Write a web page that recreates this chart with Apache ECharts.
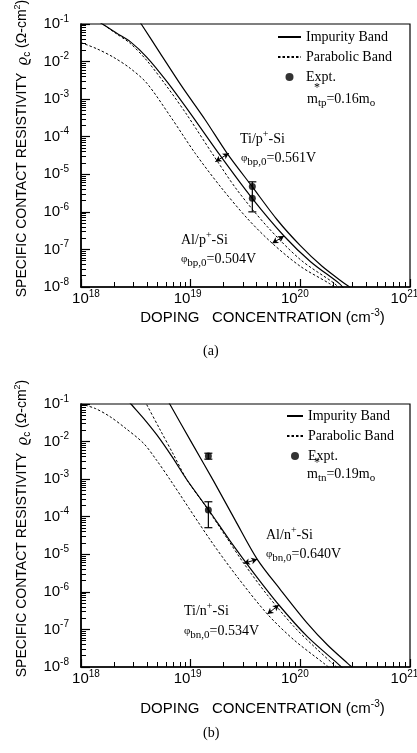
<!DOCTYPE html>
<html>
<head>
<meta charset="utf-8">
<title>Specific contact resistivity vs doping concentration</title>
<script src="https://cdn.jsdelivr.net/npm/echarts@6/dist/echarts.min.js"></script>
<style>
  html, body { margin: 0; padding: 0; background: #fff; }
  #chart { width: 417px; height: 753px; }
</style>
</head>
<body>
<div id="chart"></div>
<script>
// ---- Axis decades (powers of ten) ----
const dopingExponents = [18, 19, 20, 21];
const resistivityExponents = [-1, -2, -3, -4, -5, -6, -7, -8];

// ---- (a) p+-Si contacts: doping N (cm^-3) and specific contact resistivity (ohm-cm^2) ----
const pTiImpurityN    = [3.39e18, 3.59e18, 5.28e18, 8.34e18, 1.36e19, 2.15e19, 3.64e19, 6.17e19, 1.00e20, 1.58e20, 2.51e20, 2.82e20];
const pTiImpurityRho  = [1.2e-1, 9.4e-2, 1.66e-2, 2.15e-3, 2.79e-4, 3.61e-5, 4.68e-6, 6.07e-7, 1.26e-7, 3.55e-8, 1.26e-8, 1.0e-8];
const pAlImpurityN    = [1.48e18, 1.62e18, 2.12e18, 2.81e18, 3.99e18, 6.08e18, 9.93e18, 1.80e19, 3.64e19, 7.10e19, 1.24e20, 2.26e20, 2.51e20];
const pAlImpurityRho  = [1.12e-1, 9.4e-2, 5.65e-2, 3.39e-2, 1.30e-2, 2.92e-3, 4.19e-4, 3.61e-5, 2.29e-6, 2.28e-7, 4.72e-8, 1.25e-8, 8.9e-9];
const pTiParabolicN   = [1.48e18, 1.62e18, 2.12e18, 2.81e18, 3.99e18, 6.08e18, 9.27e18, 1.57e19, 2.65e19, 5.00e19, 1.01e20, 2.04e20, 2.29e20];
const pTiParabolicRho = [1.12e-1, 9.4e-2, 5.42e-2, 3.05e-2, 1.06e-2, 2.15e-3, 3.78e-4, 3.61e-5, 3.82e-6, 4.04e-7, 5.24e-8, 1.25e-8, 8.9e-9];
const pAlParabolicN   = [1.00e18, 1.39e18, 1.98e18, 2.81e18, 3.99e18, 6.56e18, 1.10e19, 1.87e19, 3.28e19, 5.55e19, 1.01e20, 1.83e20, 2.09e20];
const pAlParabolicRho = [3.18e-2, 2.20e-2, 1.30e-2, 6.61e-3, 2.64e-3, 3.41e-4, 3.61e-5, 4.68e-6, 6.71e-7, 1.45e-7, 3.48e-8, 1.25e-8, 9.3e-9];
const pExptN    = [3.65e19, 3.65e19];
const pExptRho  = [4.7e-6, 2.3e-6];
const pErrN     = [3.65e19];
const pErrLow   = [1.0e-6];
const pErrHigh  = [6.3e-6];
// double-headed arrows pairing the two models for each metal
const pTiArrow = [[1.68e19, 2.17e-5], [2.23e19, 3.61e-5]];
const pAlArrow = [[5.55e19, 1.45e-7], [7.10e19, 2.28e-7]];

// ---- (b) n+-Si contacts ----
const nAlImpurityN    = [6.17e18, 6.52e18, 1.03e19, 1.63e19, 2.56e19, 4.05e19, 6.62e19, 1.16e20, 1.77e20, 2.70e20, 2.95e20];
const nAlImpurityRho  = [1.26e-1, 9.4e-2, 8.97e-3, 8.57e-4, 7.85e-5, 7.35e-6, 1.12e-6, 1.45e-7, 3.85e-8, 1.25e-8, 1.0e-8];
const nTiImpurityN    = [2.69e18, 2.91e18, 3.72e18, 4.92e18, 6.76e18, 9.27e18, 1.46e19, 2.31e19, 3.78e19, 6.38e19, 1.16e20, 2.18e20, 2.45e20];
const nTiImpurityRho  = [1.23e-1, 9.4e-2, 4.15e-2, 1.50e-2, 3.96e-3, 9.48e-4, 1.51e-4, 2.17e-5, 3.11e-6, 4.47e-7, 6.41e-8, 1.25e-8, 9.3e-9];
const nAlParabolicN   = [3.80e18, 3.99e18, 5.28e18, 7.00e18, 9.27e18, 1.41e19, 2.15e19, 3.05e19, 5.00e19, 8.77e19, 1.34e20, 1.96e20, 2.19e20];
const nAlParabolicRho = [1.23e-1, 9.4e-2, 2.03e-2, 4.40e-3, 9.48e-4, 1.67e-4, 2.65e-5, 5.74e-6, 8.24e-7, 1.18e-7, 3.48e-8, 1.25e-8, 9.3e-9];
const nTiParabolicN   = [1.00e18, 1.35e18, 1.84e18, 2.51e18, 3.72e18, 4.90e18, 6.52e18, 1.51e19, 2.65e19, 5.00e19, 8.77e19, 1.64e20, 1.86e20];
const nTiParabolicRho = [1.0e-1, 7.59e-2, 4.60e-2, 2.34e-2, 8.97e-3, 3.16e-3, 9.48e-4, 2.40e-5, 2.54e-6, 2.57e-7, 5.22e-8, 1.25e-8, 9.3e-9];
const nExptN    = [1.45e19, 1.45e19];
const nExptRho  = [4.1e-3, 1.5e-4];
const nErrN     = [1.45e19, 1.45e19];
const nErrLow   = [3.4e-3, 5.1e-5];
const nErrHigh  = [4.9e-3, 2.5e-4];
const nAlArrow = [[3.05e19, 5.74e-6], [4.05e19, 7.35e-6]];
const nTiArrow = [[5.00e19, 2.57e-7], [6.38e19, 4.47e-7]];

// ---- helpers ----
const sans = "'Liberation Sans', Arial, sans-serif";
const serif = "'Liberation Serif', 'Times New Roman', serif";
const zip = (xs, ys) => xs.map((x, i) => [x, ys[i]]);
const zip3 = (xs, a, b) => xs.map((x, i) => [x, a[i], b[i]]);

// log-spaced minor tick positions (2..9 in each decade)
const dopingMinor = [];
for (let k = 18; k < 21; k++) for (let m = 2; m <= 9; m++) dopingMinor.push(m * Math.pow(10, k));
const resistivityMinor = [];
for (let k = -8; k < -1; k++) for (let m = 2; m <= 9; m++) resistivityMinor.push(m * Math.pow(10, k));

const supRich = {
  b: { fontFamily: sans, fontSize: 15, lineHeight: 20, color: '#000' },
  s: { fontFamily: sans, fontSize: 10, lineHeight: 11, verticalAlign: 'top', color: '#000' },
  lead: { width: 10, fontSize: 10, lineHeight: 20 },
  trail6: { width: 6, fontSize: 10, lineHeight: 20 },
  trail11: { width: 11, fontSize: 10, lineHeight: 20 }
};

// hand-set nudges of the decade labels along the doping axis
const xLabelPad = { 18: ['lead', ''], 19: ['', 'trail6'], 20: ['', 'trail11'], 21: ['', 'trail11'] };

function xLabel(v) {
  const e = Math.round(Math.log10(v));
  if (!dopingExponents.includes(e)) return '';
  const pad = xLabelPad[e] || ['', ''];
  return (pad[0] ? `{${pad[0]}| }` : '') + `{b|10}{s|${e}}` + (pad[1] ? `{${pad[1]}| }` : '');
}
function yLabel(v) {
  const e = Math.round(Math.log10(v));
  return resistivityExponents.includes(e) ? `{b|10}{s|${e}}` : '';
}

function xAxisFor(gridIndex, nameGap) {
  return {
    type: 'log', logBase: 10, gridIndex, min: 1e18, max: 1e21, splitNumber: 3, position: 'bottom',
    axisLine: { show: true, lineStyle: { color: '#000', width: 1.6 } },
    axisTick: { show: true, inside: true, length: 8, lineStyle: { color: '#000', width: 1.2 } },
    splitLine: { show: false },
    minorTick: { show: false },
    axisLabel: { margin: 2, formatter: xLabel, rich: supRich },
    name: '{t|DOPING   CONCENTRATION (cm}{s|-3}{t|)}',
    nameLocation: 'middle', nameGap,
    nameTextStyle: {
      padding: [0, 0, 0, 34],
      rich: {
        t: { fontFamily: sans, fontSize: 15, lineHeight: 20, color: '#000' },
        s: { fontFamily: sans, fontSize: 10, lineHeight: 11, verticalAlign: 'top', color: '#000' }
      }
    }
  };
}
// companion axis carrying only the short minor ticks
function xMinorAxisFor(gridIndex) {
  return {
    type: 'log', logBase: 10, gridIndex, min: 1e18, max: 1e21, position: 'bottom',
    axisLine: { show: false },
    axisTick: { show: true, inside: true, length: 5, customValues: dopingMinor, lineStyle: { color: '#000', width: 1 } },
    axisLabel: { show: false }, splitLine: { show: false }
  };
}

function yAxisFor(gridIndex) {
  return {
    type: 'log', logBase: 10, gridIndex, min: 1e-8, max: 1e-1, splitNumber: 7, position: 'left',
    axisLine: { show: true, lineStyle: { color: '#000', width: 1.6 } },
    axisTick: { show: true, inside: true, length: 9, lineStyle: { color: '#000', width: 1.2 } },
    splitLine: { show: false },
    minorTick: { show: false },
    axisLabel: { margin: 12, formatter: yLabel, rich: supRich },
    name: '{t|SPECIFIC CONTACT RESISTIVITY  }{r|ϱ}{c|c}{t| (Ω-cm}{s|2}{t|)}',
    nameLocation: 'middle', nameGap: 46,
    nameTextStyle: {
      padding: [0, 0, 0, 14],
      rich: {
        t: { fontFamily: sans, fontSize: 14, lineHeight: 20, color: '#000' },
        r: { fontFamily: serif, fontSize: 16, fontStyle: 'italic', lineHeight: 20, color: '#000' },
        c: { fontFamily: sans, fontSize: 10, lineHeight: 10, verticalAlign: 'bottom', color: '#000' },
        s: { fontFamily: sans, fontSize: 9, lineHeight: 10, verticalAlign: 'top', color: '#000' }
      }
    }
  };
}
function yMinorAxisFor(gridIndex) {
  return {
    type: 'log', logBase: 10, gridIndex, min: 1e-8, max: 1e-1, position: 'left',
    axisLine: { show: false },
    axisTick: { show: true, inside: true, length: 5, customValues: resistivityMinor, lineStyle: { color: '#000', width: 1 } },
    axisLabel: { show: false }, splitLine: { show: false }
  };
}

function renderErrorBar(params, api) {
  const x = api.value(0);
  const lo = api.coord([x, api.value(1)]);
  const hi = api.coord([x, api.value(2)]);
  const w = 4;
  const st = { stroke: '#000', lineWidth: 1.2 };
  return {
    type: 'group',
    children: [
      { type: 'line', shape: { x1: lo[0], y1: lo[1], x2: hi[0], y2: hi[1] }, style: st },
      { type: 'line', shape: { x1: lo[0] - w, y1: lo[1], x2: lo[0] + w, y2: lo[1] }, style: st },
      { type: 'line', shape: { x1: hi[0] - w, y1: hi[1], x2: hi[0] + w, y2: hi[1] }, style: st }
    ]
  };
}

const solid = { color: '#000', width: 1.2, type: 'solid' };
const dotted = { color: '#000', width: 1, type: [2.5, 2] };
const arrowLine = arrows => ({
  silent: true, symbol: ['arrow', 'arrow'], symbolSize: [5, 6],
  label: { show: false }, lineStyle: { color: '#000', width: 1, type: 'solid' },
  emphasis: { disabled: true },
  data: arrows.map(a => [{ coord: a[0] }, { coord: a[1] }])
});

function curve(name, idx, xs, ys, style, arrows) {
  const s = {
    name, type: 'line', xAxisIndex: 2 * idx, yAxisIndex: 2 * idx, data: zip(xs, ys),
    symbol: 'none', showSymbol: false, smooth: 0.3, clip: true,
    lineStyle: style, itemStyle: { color: '#000' }, z: 3
  };
  if (arrows) s.markLine = arrowLine(arrows);
  return s;
}

function panelSeries(idx, c, exptN, exptRho, errN, errLo, errHi) {
  return [
    curve('Impurity Band', idx, c[0][0], c[0][1], solid, c[0][2]),
    curve('Impurity Band', idx, c[1][0], c[1][1], solid, c[1][2]),
    curve('Parabolic Band', idx, c[2][0], c[2][1], dotted),
    curve('Parabolic Band', idx, c[3][0], c[3][1], dotted),
    {
      name: 'Expt.', type: 'scatter', xAxisIndex: 2 * idx, yAxisIndex: 2 * idx,
      data: zip(exptN, exptRho), symbol: 'circle', symbolSize: 7,
      itemStyle: { color: '#000' }, z: 5
    },
    {
      type: 'custom', xAxisIndex: 2 * idx, yAxisIndex: 2 * idx, renderItem: renderErrorBar,
      data: zip3(errN, errLo, errHi), encode: { x: 0, y: [1, 2] }, silent: true, z: 4
    }
  ];
}

const legendBase = {
  orient: 'vertical', selectedMode: false, itemHeight: 8, itemGap: 6, padding: 0,
  textStyle: { fontFamily: serif, fontSize: 14, color: '#000', lineHeight: 14 },
  data: [
    { name: 'Impurity Band', itemStyle: { opacity: 0 } },
    { name: 'Parabolic Band', itemStyle: { opacity: 0 } },
    'Expt.'
  ]
};

const serifRich = {
  s: { fontFamily: serif, fontSize: 10, lineHeight: 10, verticalAlign: 'top', fill: '#000' },
  b: { fontFamily: serif, fontSize: 11, lineHeight: 10, verticalAlign: 'bottom', fill: '#000' },
  p: { fontFamily: serif, fontSize: 11, lineHeight: 20, fill: '#000' }
};
function note(x, yCenter, text) {
  return {
    type: 'text', left: x, top: yCenter - 10, silent: true,
    style: { text, fontFamily: serif, fontSize: 14, lineHeight: 20, fill: '#000', rich: serifRich }
  };
}
function star(x, yCenter) {
  return {
    type: 'text', left: x, top: yCenter - 6, silent: true,
    style: { text: '*', fontFamily: serif, fontSize: 12, fill: '#000' }
  };
}

const option = {
  animation: false,
  backgroundColor: '#fff',
  grid: [
    { left: 81, right: 7, top: 24, height: 263, show: true, borderColor: '#000', borderWidth: 1.2, outerBoundsMode: 'none' },
    { left: 81, right: 7, top: 404, height: 263, show: true, borderColor: '#000', borderWidth: 1.2, outerBoundsMode: 'none' }
  ],
  xAxis: [xAxisFor(0, 21), xMinorAxisFor(0), xAxisFor(1, 32), xMinorAxisFor(1)],
  yAxis: [yAxisFor(0), yMinorAxisFor(0), yAxisFor(1), yMinorAxisFor(1)],
  legend: [
    Object.assign({}, legendBase, { left: 277, top: 30, itemWidth: 23 }),
    Object.assign({}, legendBase, { left: 286, top: 409, itemWidth: 16 })
  ],
  graphic: [
    note(307, 99, 'm{b|tp}=0.16m{b|o}'), star(314, 88),
    note(240, 139, 'Ti/p{s|+}-Si'),
    note(241, 158, '{p|φ}{b|bp,0}=0.561V'),
    note(181, 240, 'Al/p{s|+}-Si'),
    note(181, 259, '{p|φ}{b|bp,0}=0.504V'),
    note(307, 474, 'm{b|tn}=0.19m{b|o}'), star(314, 463),
    note(266, 535, 'Al/n{s|+}-Si'),
    note(266, 554, '{p|φ}{b|bn,0}=0.640V'),
    note(184, 611, 'Ti/n{s|+}-Si'),
    note(184, 631, '{p|φ}{b|bn,0}=0.534V'),
    { type: 'text', left: 203, top: 344, silent: true, style: { text: '(a)', fontFamily: serif, fontSize: 14, fill: '#000' } },
    { type: 'text', left: 203, top: 726, silent: true, style: { text: '(b)', fontFamily: serif, fontSize: 14, fill: '#000' } }
  ],
  series: [
    ...panelSeries(0, [
      [pTiImpurityN, pTiImpurityRho, [pTiArrow]],
      [pAlImpurityN, pAlImpurityRho, [pAlArrow]],
      [pTiParabolicN, pTiParabolicRho],
      [pAlParabolicN, pAlParabolicRho]
    ], pExptN, pExptRho, pErrN, pErrLow, pErrHigh),
    ...panelSeries(1, [
      [nAlImpurityN, nAlImpurityRho, [nAlArrow]],
      [nTiImpurityN, nTiImpurityRho, [nTiArrow]],
      [nAlParabolicN, nAlParabolicRho],
      [nTiParabolicN, nTiParabolicRho]
    ], nExptN, nExptRho, nErrN, nErrLow, nErrHigh)
  ]
};

const chart = echarts.init(document.getElementById('chart'), null, { renderer: 'canvas' });
chart.setOption(option);
</script>
</body>
</html>
